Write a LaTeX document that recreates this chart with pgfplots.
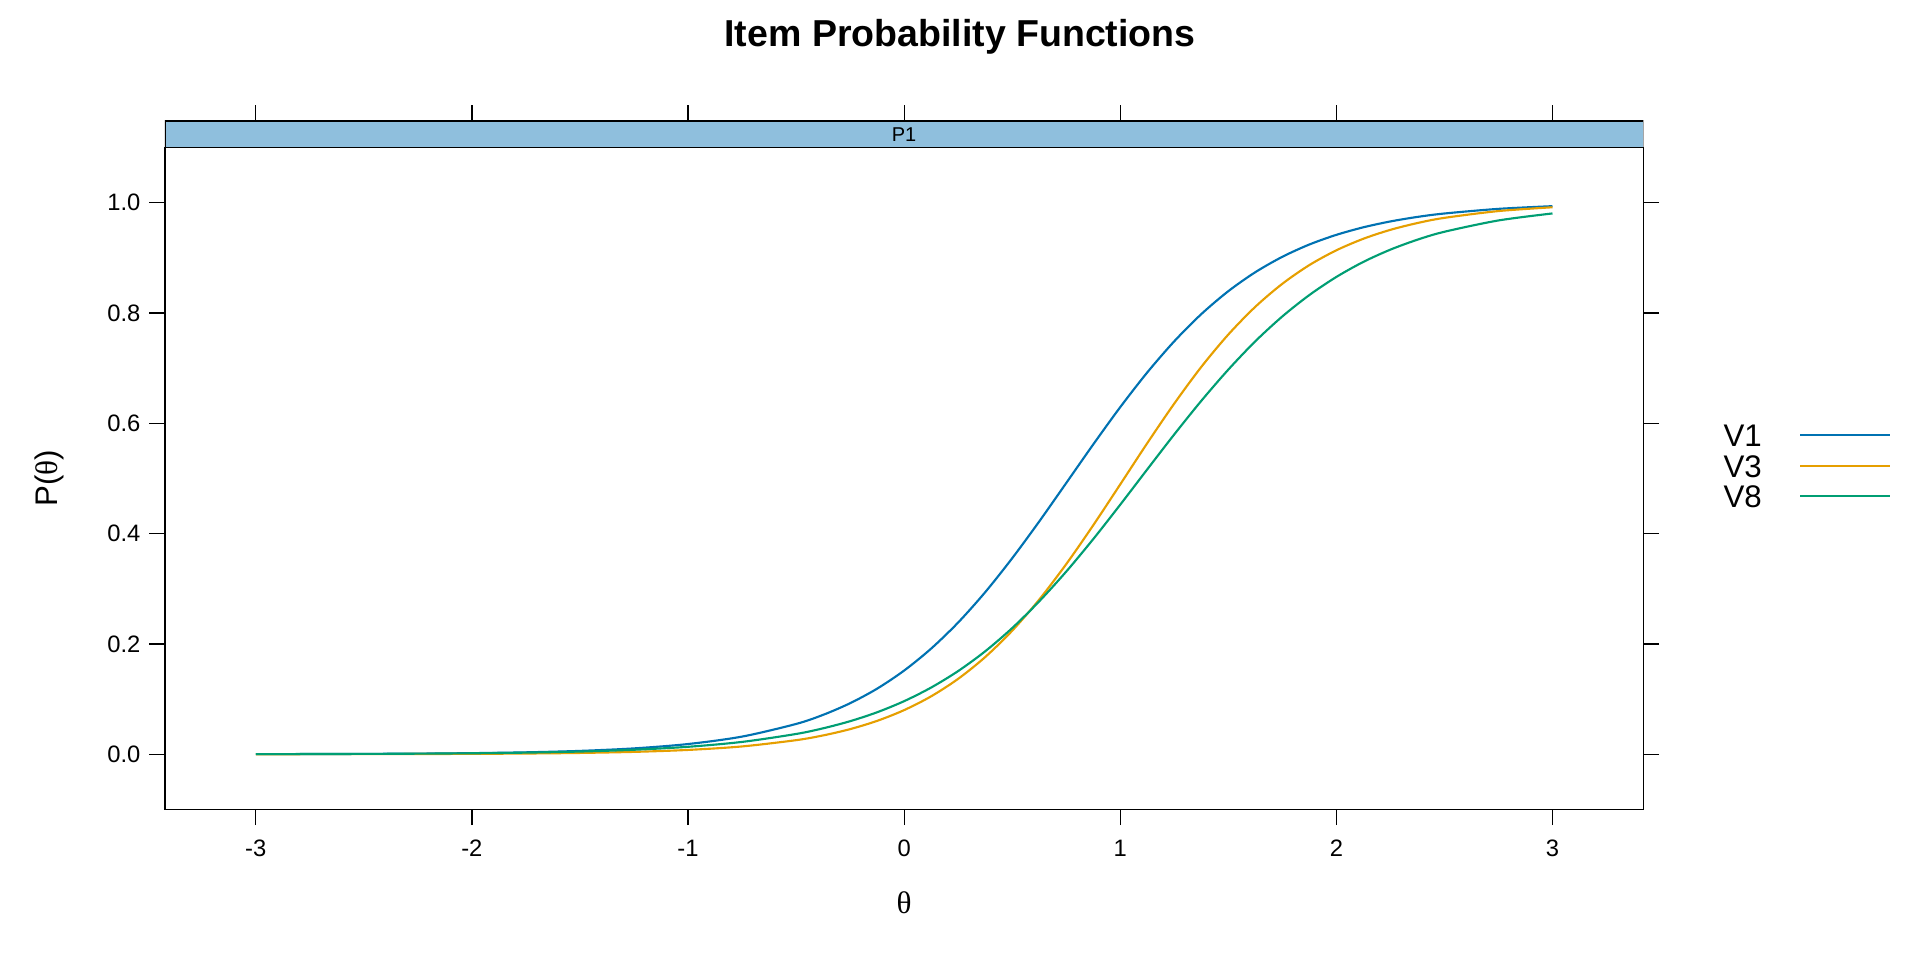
\documentclass[border=0pt]{standalone}
\usepackage{pgfplots}
\pgfplotsset{compat=1.18}
\usepackage{fontspec}
\setmainfont{Liberation Sans}
\newfontfamily\symf{Liberation Serif}

\definecolor{cVone}{RGB}{0,114,178}
\definecolor{cVthree}{RGB}{230,159,0}
\definecolor{cVeight}{RGB}{0,158,115}
\definecolor{stripblue}{RGB}{143,191,221}

\begin{document}
\begin{tikzpicture}
\useasboundingbox (-66pt,-60.24pt) rectangle (702pt,323.76pt);

% top ticks and the strip above the panel
\begin{axis}[
    at={(0,0)}, anchor=south west,
    scale only axis,
    width=591.3pt, height=275.4pt,
    xmin=-3.42, xmax=3.42,
    ymin=0, ymax=1,
    axis line style={draw=none},
    xtick={-3,-2,-1,0,1,2,3},
    xticklabels={},
    xtick pos=right,
    ytick=\empty,
    tick align=outside,
    major tick length=6.3pt,
    tick style={line width=0.5pt, black},
]
\draw[fill=stripblue, line width=0.5pt] (rel axis cs:0,0.9615) rectangle (rel axis cs:1,1);
\node[font=\fontsize{8}{9}\selectfont] at (rel axis cs:0.5,0.98075) {P1};
\end{axis}

\begin{axis}[
    at={(0,0)}, anchor=south west,
    scale only axis,
    width=591.3pt, height=264.8pt,
    xmin=-3.42, xmax=3.42,
    ymin=-0.1, ymax=1.1,
    xtick={-3,-2,-1,0,1,2,3},
    ytick={0,0.2,0.4,0.6,0.8,1},
    xtick pos=left,
    ytick pos=both,
    yticklabel pos=left,
    tick align=outside,
    major tick length=6.3pt,
    tick style={line width=0.5pt, black},
    axis line style={line width=0.5pt},
    /pgf/number format/assume math mode=true,
    ticklabel style={font=\fontsize{9.5}{11}\selectfont},
    xticklabel style={yshift=-2.4pt},
    yticklabel style={/pgf/number format/.cd, fixed, fixed zerofill, precision=1},
    xlabel={{\symf θ}},
    ylabel={P({\symf θ})},
    xlabel style={at={(axis description cs:0.5,-0.157)}, anchor=base, font=\fontsize{12.5}{14}\selectfont},
    ylabel style={at={(axis description cs:-0.0785,0.5)}, anchor=center, font=\fontsize{12.5}{14}\selectfont},
    title={Item Probability Functions},
    title style={at={(axis description cs:0.5378,1.130)}, anchor=base, font=\fontsize{15}{18}\selectfont\bfseries},
    legend plot pos=right,
    legend cell align=left,
    legend image code/.code={\draw[#1] (0pt,0pt) -- (36pt,0pt);},
    legend style={
        at={(rel axis cs:1.054,0.519)}, anchor=west,
        draw=none, fill=none,
        inner sep=0pt,
        column sep=15pt, row sep=3.2pt,
        nodes={inner sep=0pt, text height=9pt, text depth=0pt},
        font=\fontsize{12.5}{14}\selectfont,
    },
    every axis plot/.append style={line width=0.85pt, smooth},
]

\addplot[cVone] coordinates {
(-3,0.00021) (-2.75,0.00037) (-2.5,0.00064) (-2.25,0.00113) (-2,0.00198)
(-1.75,0.00348) (-1.5,0.00608) (-1.25,0.01063) (-1,0.01851) (-0.75,0.0320)
(-0.5,0.0549) (-0.375,0.0714) (-0.25,0.0925) (-0.125,0.1189) (0,0.1517)
(0.125,0.1915) (0.25,0.2388) (0.375,0.2937) (0.5,0.3553) (0.625,0.4219)
(0.75,0.4916) (0.875,0.5616) (1,0.6292) (1.125,0.6921) (1.25,0.7486)
(1.375,0.7978) (1.5,0.8394) (1.625,0.8738) (1.75,0.9017) (1.875,0.9240)
(2,0.9415) (2.125,0.9552) (2.25,0.9658) (2.375,0.9740) (2.5,0.9802)
(2.75,0.9886) (3,0.9935)
};
\addplot[cVthree] coordinates {
(-3,0.00007) (-2.75,0.00012) (-2.5,0.00022) (-2.25,0.00039) (-2,0.00071)
(-1.75,0.00130) (-1.5,0.00237) (-1.25,0.00430) (-1,0.00782) (-0.75,0.01416)
(-0.5,0.02551) (-0.375,0.0341) (-0.25,0.0455) (-0.125,0.0605) (0,0.0800)
(0.125,0.1050) (0.25,0.1367) (0.375,0.1761) (0.5,0.2239) (0.625,0.2803)
(0.75,0.3446) (0.875,0.4151) (1,0.4892) (1.125,0.5639) (1.25,0.6357)
(1.375,0.7021) (1.5,0.7608) (1.625,0.8111) (1.75,0.8528) (1.875,0.8867)
(2,0.9135) (2.125,0.9344) (2.25,0.9506) (2.375,0.9629) (2.5,0.9723)
(2.75,0.9846) (3,0.9915)
};
\addplot[cVeight] coordinates {
(-3,0.00023) (-2.75,0.00038) (-2.5,0.00063) (-2.25,0.00105) (-2,0.00176)
(-1.75,0.00293) (-1.5,0.00489) (-1.25,0.00813) (-1,0.01350) (-0.75,0.02236)
(-0.5,0.03674) (-0.375,0.0470) (-0.25,0.0599) (-0.125,0.0761) (0,0.0962)
(0.125,0.1209) (0.25,0.1508) (0.375,0.1866) (0.5,0.2287) (0.625,0.2771)
(0.75,0.3311) (0.875,0.3900) (1,0.4524) (1.125,0.5164) (1.25,0.5798)
(1.375,0.6406) (1.5,0.6972) (1.625,0.7486) (1.75,0.7936) (1.875,0.8324)
(2,0.8652) (2.125,0.8925) (2.25,0.9147) (2.375,0.9327) (2.5,0.9471)
(2.75,0.9676) (3,0.9803)
};
\legend{V1,V3,V8}
\end{axis}
\end{tikzpicture}
\end{document}
